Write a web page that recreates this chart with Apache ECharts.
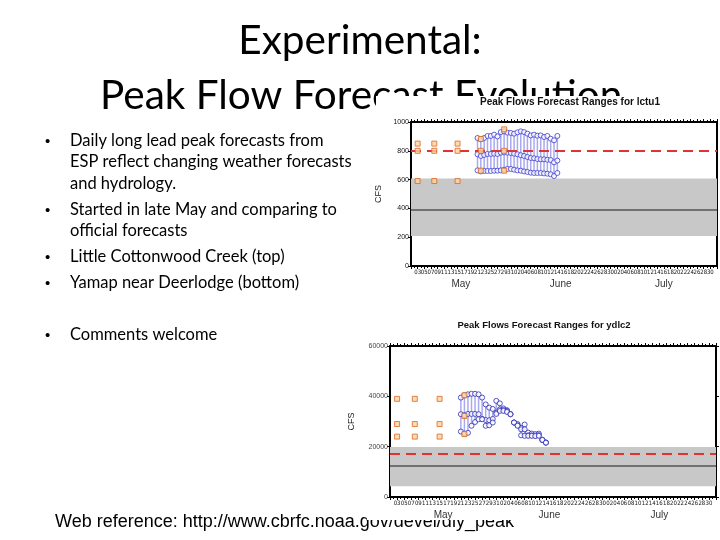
<!DOCTYPE html>
<html>
<head>
<meta charset="utf-8">
<script src="https://cdn.jsdelivr.net/npm/echarts@6/dist/echarts.min.js"></script>
<style>
html,body{margin:0;padding:0;background:#fff;}
#chart{width:720px;height:540px;}
</style>
</head>
<body>
<div id="chart"></div>
<script>
// ---------- data ----------
const slideTitle = ['Experimental:', 'Peak Flow Forecast Evolution'];
const bulletLines = [
  'Daily long lead peak forecasts from',
  'ESP reflect changing weather forecasts',
  'and hydrology.',
  'Started in late May and comparing to',
  'official forecasts',
  'Little Cottonwood Creek (top)',
  'Yamap near Deerlodge (bottom)',
  'Comments welcome'
];
const webReference = 'Web reference: http://www.cbrfc.noaa.gov/devel/dly_peak';
const chartTitles = ['Peak Flows Forecast Ranges for lctu1', 'Peak Flows Forecast Ranges for ydlc2'];
const monthNames = ['May', 'June', 'July'];

const forecastDates = ['May 21','May 22','May 23','May 24','May 25','May 26','May 27','May 28','May 29','May 30','May 31',
  'Jun 1','Jun 2','Jun 3','Jun 4','Jun 5','Jun 6','Jun 7','Jun 8','Jun 9','Jun 10','Jun 11','Jun 12','Jun 13','Jun 14'];

// Little Cottonwood Creek (lctu1)
const lctuHigh = [889,880,889,903,903,912,900,930,935,926,924,919,928,935,930,919,907,912,905,907,896,903,884,873,903];
const lctuMid  = [776,764,771,778,778,780,778,787,789,787,785,780,776,769,764,757,750,748,743,741,741,738,736,720,732];
const lctuLow  = [664,657,660,660,660,662,662,664,669,674,674,669,664,662,657,653,648,646,646,646,643,641,637,625,646];
const lctuOfficialDates = ['May 3','May 8','May 15','May 22','May 29'];
const lctuOfficialHigh = [850,850,850,882,949];
const lctuOfficialMid  = [800,800,800,800,800];
const lctuOfficialLow  = [590,590,590,662,662];
const lctuBand = [208, 607];
const lctuNormal = 392;
const lctuFlood = 800;

// Yampa near Deerlodge (ydlc2)
const ydlcHigh = [39500,40400,40800,41000,41000,40800,39500,36800,35500,35000,38200,37200,35200,34500,32900,29600,29000,27500,28800,25600,25200,25000,25200,22700,21600];
const ydlcMid  = [32900,32500,33000,33000,33000,32900,31000,30600,30500,31000,33500,34800,34600,34200,32900,29600,28500,26900,26900,24500,24500,24400,24600,22700,21600];
const ydlcLow  = [26000,25200,25500,28300,29800,30900,30900,28300,28500,29600,33000,34200,34200,33800,32900,29600,28300,24500,24300,24300,24300,24200,24300,22700,21600];
const ydlcOfficialDates = ['May 3','May 8','May 15','May 22'];
const ydlcOfficialHigh = [39000,39000,39000,40400];
const ydlcOfficialMid  = [29000,29000,29000,32200];
const ydlcOfficialLow  = [24000,24000,24000,25000];
const ydlcBand = [4250, 19900];
const ydlcNormal = 12500;
const ydlcFlood = 17100;

// ---------- helpers ----------
const monthStart = {May: 0, Jun: 31, Jul: 61};
function dayIndex(s) { const p = s.split(' '); return monthStart[p[0]] + Number(p[1]) - 1; }
function dayLabel(v) {
  let d;
  if (v < 31) d = v + 1; else if (v < 61) d = v - 30; else d = v - 60;
  return (d < 10 ? '0' : '') + d;
}
const monthPos = {15: monthNames[0], 45: monthNames[1], 76: monthNames[2]};
function monthLabel(v) { return monthPos[v] || ''; }
function plain(v) { return String(v); }
function pts(dates, vals) { return dates.map((d, i) => [dayIndex(d), vals[i]]); }
function ranges(dates, lo, hi) { return dates.map((d, i) => [dayIndex(d), lo[i], hi[i]]); }

const SANS = 'Liberation Sans, Arial, sans-serif';
const NARROW = 'Liberation Sans Narrow, DejaVu Sans Condensed, Liberation Sans, sans-serif';

function xAxesFor(g) {
  return [
    { gridIndex: g, type: 'value', min: 0, max: 92, interval: 2, position: 'bottom',
      axisLine: {show: true, onZero: false, lineStyle: {color: '#000', width: 2}},
      axisTick: {show: true, length: 3, lineStyle: {color: '#000', width: 1}},
      minorTick: {show: true, splitNumber: 2, length: 2, lineStyle: {color: '#000'}},
      splitLine: {show: false},
      axisLabel: {show: true, fontSize: 6, margin: 3, color: '#111', fontFamily: NARROW,
                  showMinLabel: false, showMaxLabel: false, formatter: dayLabel} },
    { gridIndex: g, type: 'value', min: 0, max: 92, interval: 1, position: 'bottom',
      axisLine: {show: false}, axisTick: {show: false}, splitLine: {show: false},
      axisLabel: {show: true, fontSize: 10, margin: 13, color: '#333', fontFamily: SANS, formatter: monthLabel} },
    { gridIndex: g, type: 'value', min: 0, max: 92, interval: 2, position: 'top',
      axisLine: {show: true, onZero: false, lineStyle: {color: '#000', width: 2}},
      axisTick: {show: true, length: 3, lineStyle: {color: '#000'}},
      minorTick: {show: true, splitNumber: 2, length: 2, lineStyle: {color: '#000'}},
      splitLine: {show: false}, axisLabel: {show: false} }
  ];
}
function yAxesFor(g, max, interval, nameGap, labelColor, rightTicks) {
  return [
    { gridIndex: g, type: 'value', min: 0, max: max, interval: interval, position: 'left',
      axisLine: {show: true, onZero: false, lineStyle: {color: '#000', width: 2}},
      axisTick: {show: true, length: 3, lineStyle: {color: '#000'}},
      splitLine: {show: false},
      axisLabel: {fontSize: 7, margin: 2, color: labelColor, fontFamily: SANS, formatter: plain},
      name: 'CFS', nameLocation: 'middle', nameGap: nameGap,
      nameTextStyle: {fontSize: 9, color: '#222', fontFamily: SANS} },
    { gridIndex: g, type: 'value', min: 0, max: max, interval: interval, position: 'right',
      axisLine: {show: true, onZero: false, lineStyle: {color: '#000', width: 2}},
      axisTick: {show: rightTicks, length: 3, lineStyle: {color: '#000'}},
      splitLine: {show: false}, axisLabel: {show: false} }
  ];
}

function rangeRender(color) {
  return function (params, api) {
    const x = api.value(0);
    const a = api.coord([x, api.value(1)]);
    const b = api.coord([x, api.value(2)]);
    return {type: 'line', shape: {x1: a[0], y1: a[1], x2: b[0], y2: b[1]},
            style: {stroke: color, lineWidth: 1.5}};
  };
}

function seriesFor(xi, yi, hi, mid, lo, oDates, oHi, oMid, oLo, band, normal, flood, circleColor, circleSize) {
  const circle = {type: 'scatter', xAxisIndex: xi, yAxisIndex: yi, symbol: 'circle', symbolSize: circleSize,
    itemStyle: {color: '#ffffff', borderColor: circleColor, borderWidth: 1}, silent: true, z: 4};
  const square = {type: 'scatter', xAxisIndex: xi, yAxisIndex: yi, symbol: 'rect', symbolSize: 5,
    itemStyle: {color: '#f9d3a8', borderColor: '#e0661a', borderWidth: 1}, silent: true, z: 5};
  return [
    { type: 'custom', xAxisIndex: xi, yAxisIndex: yi, renderItem: rangeRender('#a9a9f0'),
      data: ranges(forecastDates, lo, hi), encode: {x: 0, y: [1, 2]}, silent: true, z: 3,
      markArea: {silent: true, itemStyle: {color: '#c8c8c8'}, data: [[{yAxis: band[0]}, {yAxis: band[1]}]]},
      markLine: {silent: true, symbol: 'none', label: {show: false},
        data: [
          {yAxis: normal, lineStyle: {color: '#555', width: 1.5, type: 'solid'}},
          {yAxis: flood, lineStyle: {color: '#e03333', width: 2, type: [10, 6]}}
        ]} },
    Object.assign({}, circle, {data: pts(forecastDates, hi)}),
    Object.assign({}, circle, {data: pts(forecastDates, mid)}),
    Object.assign({}, circle, {data: pts(forecastDates, lo)}),
    Object.assign({}, square, {data: pts(oDates, oHi)}),
    Object.assign({}, square, {data: pts(oDates, oMid)}),
    Object.assign({}, square, {data: pts(oDates, oLo)})
  ];
}

// ---------- slide text (under the chart images) ----------
const graphics = [];
const TITLE_FONT = 'Lato, "Open Sans", sans-serif';
graphics.push({type: 'text', z: -10, left: 'center', top: 20,
  style: {text: slideTitle[0], font: '40.5px ' + TITLE_FONT, fill: '#000'}});
graphics.push({type: 'text', z: -10, x: 100, y: 96,
  style: {text: slideTitle[1], font: '40.5px ' + TITLE_FONT, fill: '#000', verticalAlign: 'middle'}});
const bulletY = [141, 162, 184, 210, 231, 257, 283, 335];
const bulletStart = [true, false, false, true, false, true, true, true];
bulletLines.forEach((t, i) => {
  if (bulletStart[i]) {
    graphics.push({type: 'text', z: -10, x: 45, y: bulletY[i] + 1,
      style: {text: '\u2022', font: '15px ' + SANS, fill: '#000', verticalAlign: 'middle'}});
  }
  graphics.push({type: 'text', z: -10, x: 70, y: bulletY[i],
    style: {text: t, font: '16.5px ' + TITLE_FONT, fill: '#000', verticalAlign: 'middle'}});
});
graphics.push({type: 'text', z: -10, x: 55, y: 522,
  style: {text: webReference, font: '18px ' + SANS, fill: '#000', verticalAlign: 'middle'}});
// white backgrounds of the two pasted chart pictures
graphics.push({type: 'rect', z: -5, shape: {x: 376, y: 96, width: 344, height: 200}, style: {fill: '#fff'}});
graphics.push({type: 'rect', z: -5, shape: {x: 367, y: 300, width: 353, height: 220}, style: {fill: '#fff'}});

const option = {
  backgroundColor: '#fff',
  animation: false,
  title: [
    {text: chartTitles[0], left: 565, top: 92, textAlign: 'center',
     textStyle: {fontSize: 10, fontWeight: 'bold', color: '#111', fontFamily: SANS}},
    {text: chartTitles[1], left: 539, top: 315, textAlign: 'center',
     textStyle: {fontSize: 9.5, fontWeight: 'bold', color: '#111', fontFamily: SANS}}
  ],
  graphic: graphics,
  grid: [
    {left: 411, top: 122, width: 308, height: 144, show: true, backgroundColor: '#fff', borderColor: '#000', borderWidth: 0},
    {left: 390, top: 346, width: 326, height: 151, show: true, backgroundColor: '#fff', borderColor: '#000', borderWidth: 0}
  ],
  xAxis: [].concat(xAxesFor(0), xAxesFor(1)),
  yAxis: [].concat(yAxesFor(0, 1000, 200, 28, '#111', false), yAxesFor(1, 60000, 20000, 34, '#444', true)),
  series: [].concat(
    seriesFor(0, 0, lctuHigh, lctuMid, lctuLow, lctuOfficialDates, lctuOfficialHigh, lctuOfficialMid, lctuOfficialLow,
              lctuBand, lctuNormal, lctuFlood, '#3b3bd0', 5),
    seriesFor(3, 2, ydlcHigh, ydlcMid, ydlcLow, ydlcOfficialDates, ydlcOfficialHigh, ydlcOfficialMid, ydlcOfficialLow,
              ydlcBand, ydlcNormal, ydlcFlood, '#2a2ab8', 5)
  )
};

const chart = echarts.init(document.getElementById('chart'), null, {renderer: 'canvas'});
chart.setOption(option);
</script>
</body>
</html>
